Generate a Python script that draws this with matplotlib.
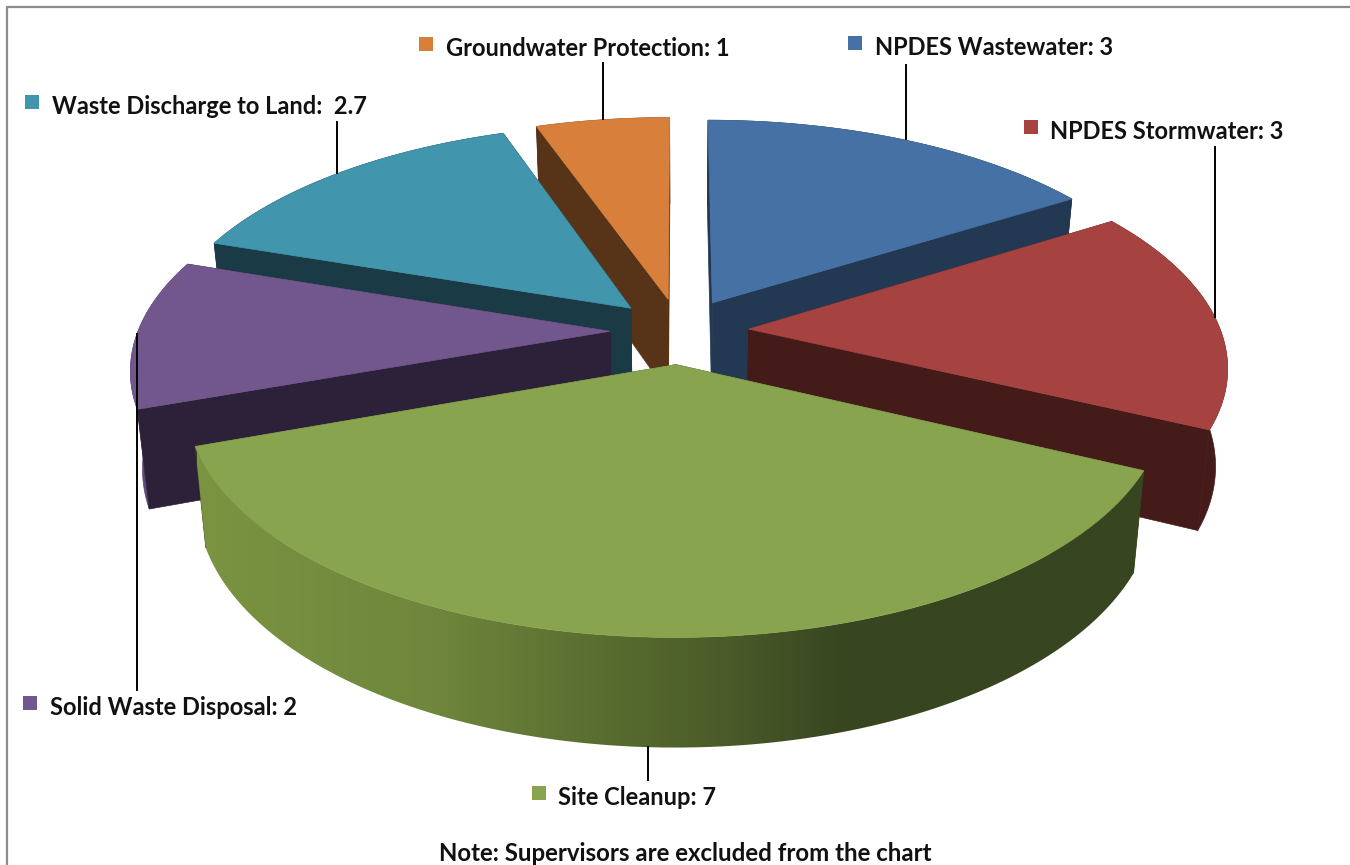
import numpy as np
import matplotlib
matplotlib.use("Agg")
import matplotlib.pyplot as plt
from matplotlib.colors import LinearSegmentedColormap
from matplotlib.patches import Polygon, Rectangle

categories = ['NPDES Wastewater', 'NPDES Stormwater', 'Site Cleanup',
              'Solid Waste Disposal', 'Waste Discharge to Land', 'Groundwater Protection']
values = [3, 3, 7, 2, 2.7, 1]
top_colors = ['#4671A5', '#A64341', '#88A44E', '#71578D', '#4195AD', '#D8803B']
side_colors = ['#223853', '#451B19', '#374520', '#2C2138', '#1A3A46', '#573317']

# legend square and text position of each label, then leader line (x, y0, y1)
label_x = [875, 1050, 558, 50, 52, 446]
label_y = [46, 130, 796, 706, 105, 47]
square_x = [848, 1024, 532, 23, 25, 419]
leader_x = [906, 1215, 648, 136.5, 337, 603]
leader_y0 = [65, 147, 747, 334, 122, 63]
leader_y1 = [139, 317, 780, 690, 173, 119]

plt.rcParams['font.family'] = ['Lato', 'DejaVu Sans']

# camera for the tilted pie, fitted to the picture
CX, CY = 679.5, 331
A, B = 472, 219
K = 0.155
EX, EY = 0.147, 0.15


def project(u, v):
    w = 1 + K * v
    return CX + A * u / w, CY - B * v / w


def extrude(x, y, v):
    w = 1 + K * v
    depth = 96 / w ** 0.7
    return CX + (x - CX) * 0.978, y + depth


green_rim = LinearSegmentedColormap.from_list(
    'green_rim',
    [(0.0, '#7A9442'), (0.25, '#6F863C'), (0.45, '#566A2E'),
     (0.55, '#4C5C29'), (0.69, '#374520'), (1.0, '#374520')])

fig = plt.figure(figsize=(13.5, 8.65), dpi=100)
ax = fig.add_axes([0, 0, 1, 1])

# chart frame
ax.plot([7, 7, 1350], [865, 7, 7], color='#8C8C8C', lw=1.6, solid_joinstyle='miter')

# build slices, clockwise from the top
total = sum(values)
edges = np.concatenate([[0], np.cumsum(values)]) / total * 2 * np.pi
slices = []
for i in range(len(values)):
    mid = (edges[i] + edges[i + 1]) / 2
    du, dv = EX * np.sin(mid), EY * np.cos(mid)
    theta = np.linspace(edges[i], edges[i + 1], 120)
    u = np.sin(theta) + du
    v = np.cos(theta) + dv
    slices.append((dv, i, du, dv, u, v))

# far slices first so near ones cover them
z = 2
for _, i, du, dv, u, v in sorted(slices, key=lambda s: -s[0]):
    ax_x, ax_y = project(du, dv)
    x, y = project(u, v)
    bx, by = extrude(x, y, v)
    abx, aby = extrude(ax_x, ax_y, dv)
    is_green = categories[i] == 'Site Cleanup'

    # the rim: on the big front slice it sits over the cut faces, elsewhere under them
    rim_z = z + 0.5 if is_green else z
    face_z = z if is_green else z + 0.5
    rim_pts = np.column_stack([np.r_[x, bx[::-1]], np.r_[y, by[::-1]]])
    if is_green:
        rim = Polygon(rim_pts, fc='none', ec='none', transform=ax.transData)
        ax.add_patch(rim)
        ax.imshow(np.linspace(0, 1, 512).reshape(1, -1), cmap=green_rim, aspect='auto',
                  extent=(197, 1142, 865, 0), zorder=rim_z, clip_path=rim)
    else:
        c = '#5F4A78' if categories[i] == 'Solid Waste Disposal' else side_colors[i]
        ax.add_patch(Polygon(rim_pts, fc=c, ec=c, lw=0.5, zorder=rim_z))

    # the two cut faces
    for j in (0, -1):
        ax.add_patch(Polygon([(ax_x, ax_y), (x[j], y[j]), (bx[j], by[j]), (abx, aby)],
                             fc=side_colors[i], ec=side_colors[i], lw=0.5, zorder=face_z))
    # the top
    ax.add_patch(Polygon(np.column_stack([np.r_[ax_x, x], np.r_[ax_y, y]]),
                         fc=top_colors[i], ec=top_colors[i], lw=0.5, zorder=z + 1))
    z += 2

# labels
for i, cat in enumerate(categories):
    ax.plot([leader_x[i]] * 2, [leader_y0[i], leader_y1[i]], color='black', lw=1.4, zorder=z)
    ax.add_patch(Rectangle((square_x[i], label_y[i] - 10.5), 14, 14.5, fc=top_colors[i], ec='none', zorder=z))
    sep = ':  ' if cat.startswith('Waste') else ': '
    ax.text(label_x[i], label_y[i] + 1.5, f'{cat}{sep}{values[i]:g}', fontsize=17, fontweight='bold',
            color='#111111', ha='left', va='center', zorder=z)

ax.text(685, 853.5, 'Note: Supervisors are excluded from the chart', fontsize=17.3, fontweight='bold',
        color='#111111', ha='center', va='center', zorder=z)

ax.set_xlim(0, 1350)
ax.set_ylim(865, 0)
ax.axis('off')

fig.savefig('out.png', dpi=100)
